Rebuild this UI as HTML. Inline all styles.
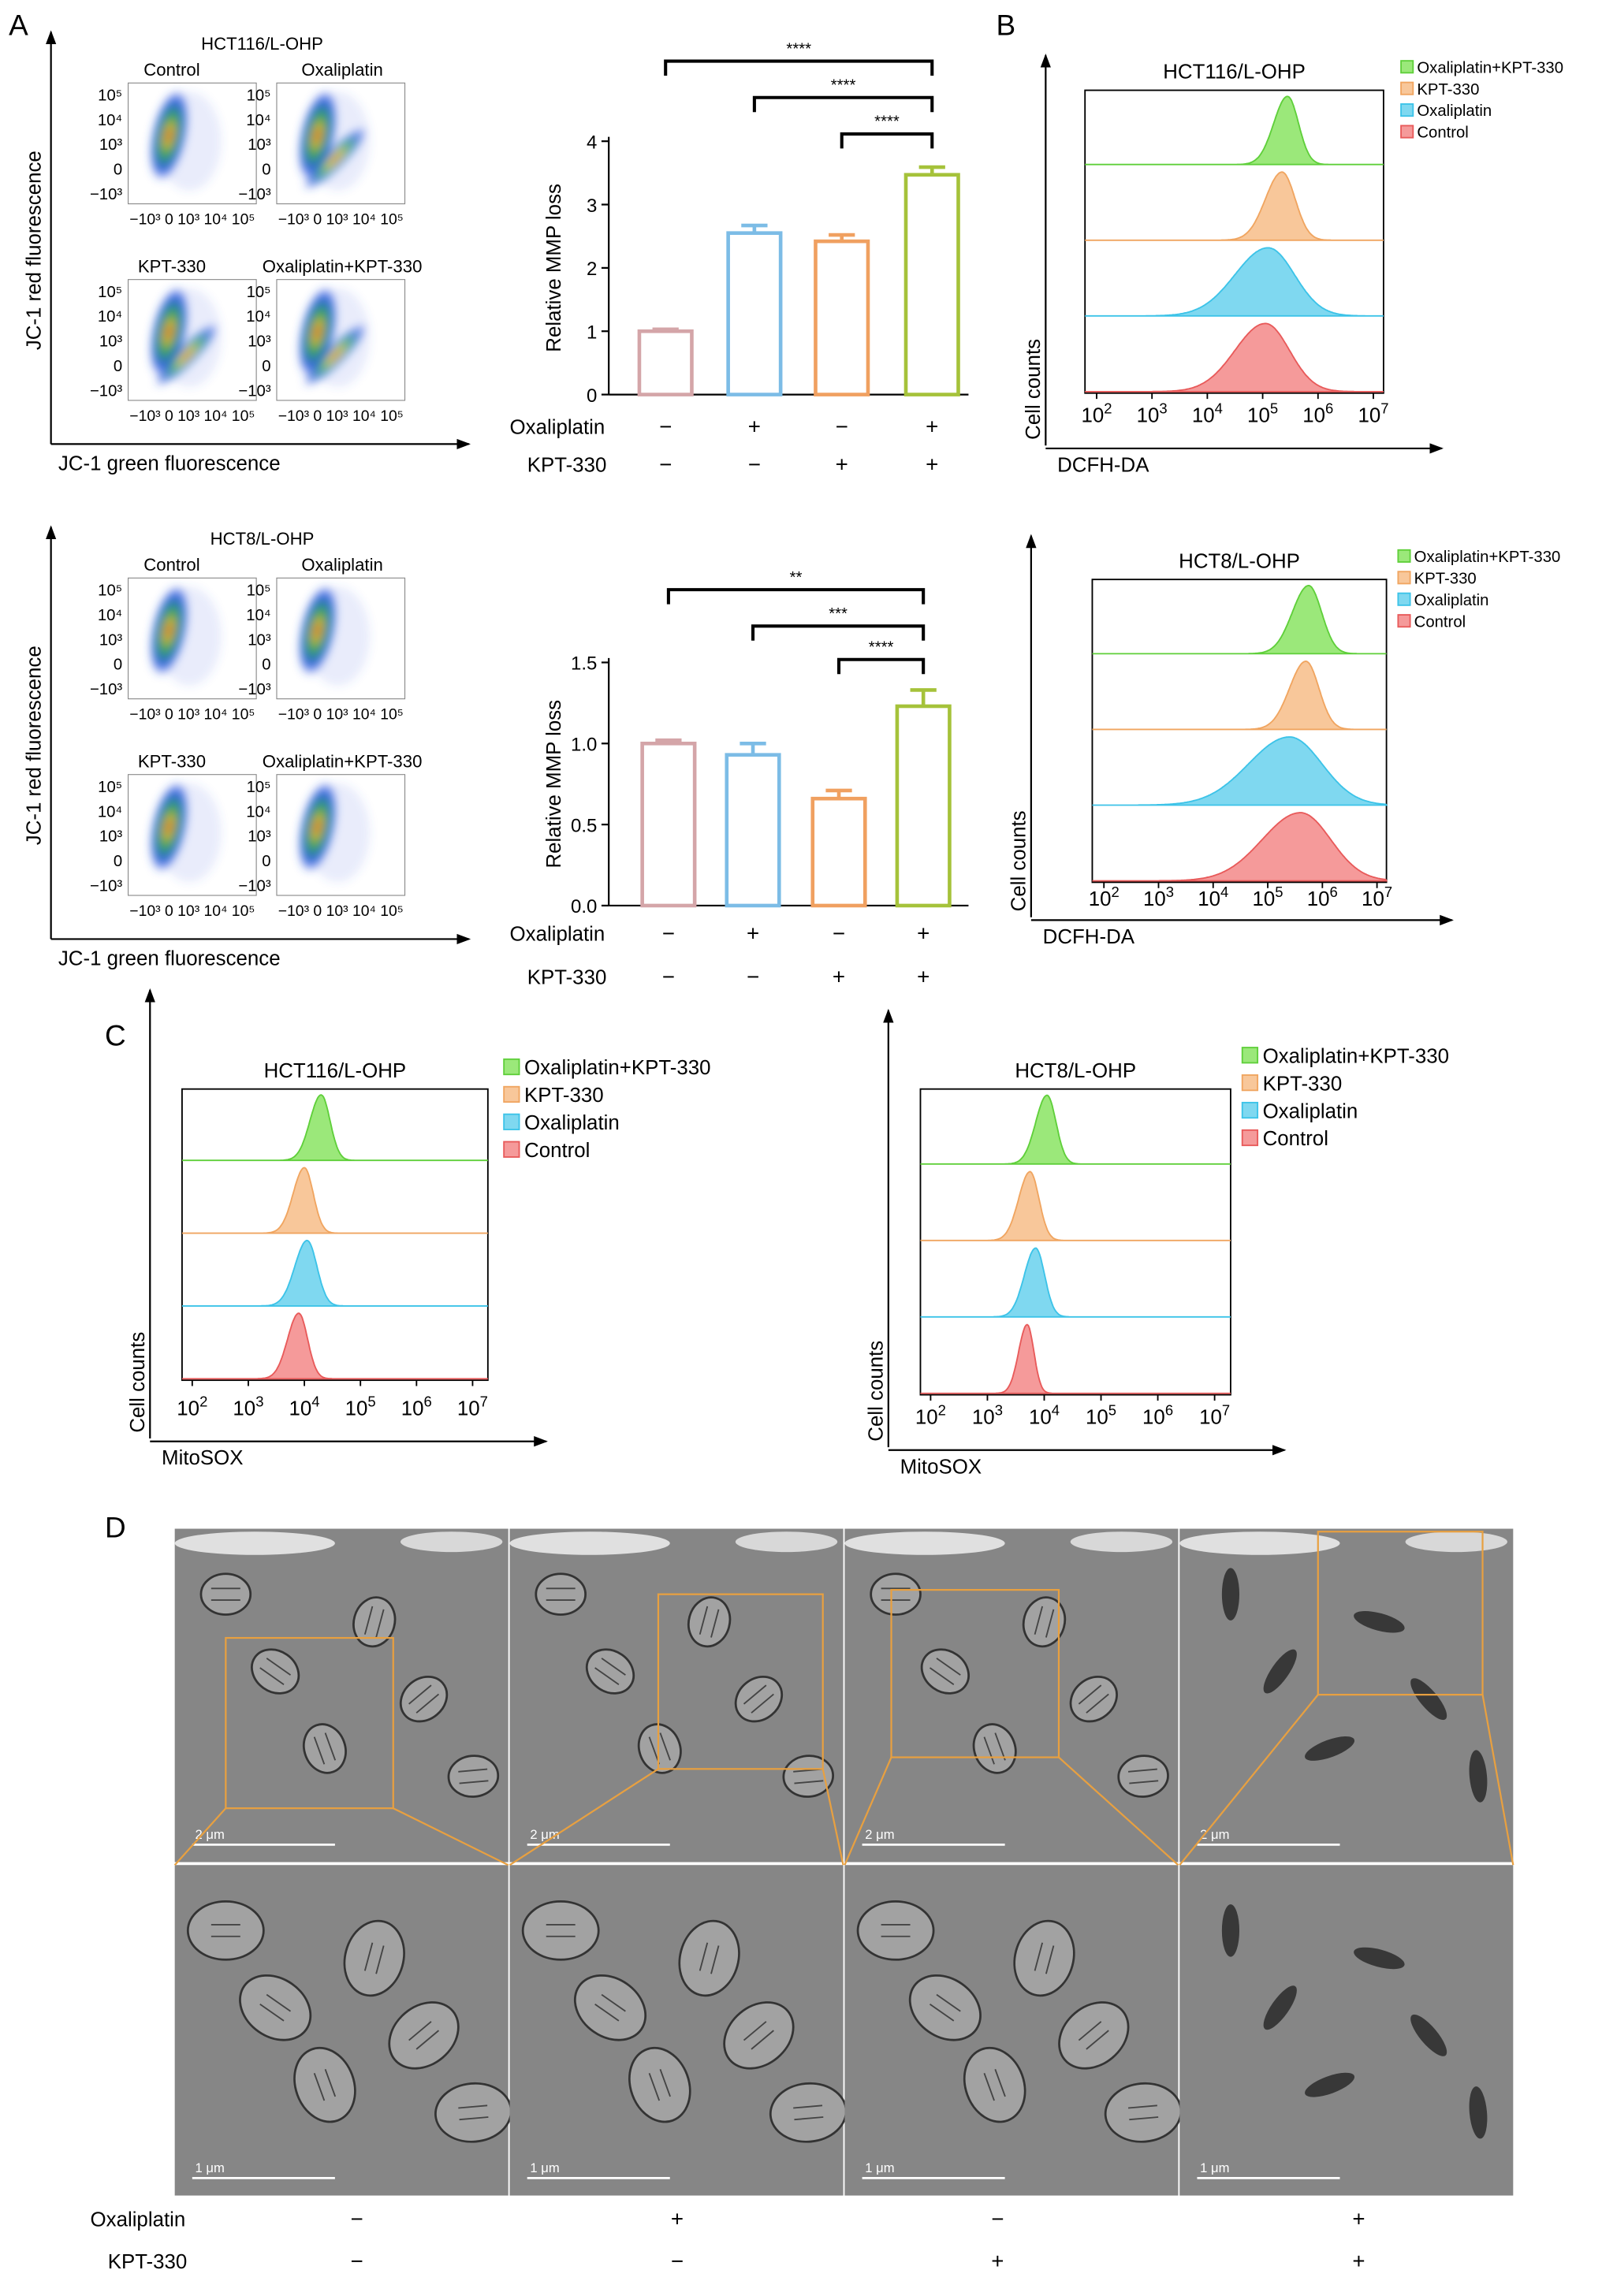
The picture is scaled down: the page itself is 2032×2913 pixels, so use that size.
<!DOCTYPE html>
<html><head><meta charset="utf-8">
<style>
html,body{margin:0;padding:0;background:#fff;}
svg{display:block;font-family:"Liberation Sans",Arial,sans-serif;}
</style></head>
<body>
<svg id="fig" width="2032" height="2913" viewBox="0 0 1100 1577" preserveAspectRatio="none" xmlns="http://www.w3.org/2000/svg">
<defs>
<radialGradient id="dens" cx="50%" cy="50%" r="50%">
<stop offset="0" stop-color="#e03020"/><stop offset="0.2" stop-color="#f0c020"/><stop offset="0.45" stop-color="#30b050"/><stop offset="0.75" stop-color="#3060e0"/><stop offset="1" stop-color="#3050e0" stop-opacity="0"/>
</radialGradient>
<filter id="blur"><feGaussianBlur stdDeviation="3"/></filter>
<marker id="arr" markerWidth="8" markerHeight="8" refX="7" refY="4" orient="auto"><path d="M0,1 L8,4 L0,7 z" fill="#000"/></marker>
</defs>
<g id="root"></g>
</svg>
<script>
// ---------- data ----------
const barGroups = ["Control","Oxaliplatin","KPT-330","Oxaliplatin+KPT-330"];
const mmpTop = [1.0, 2.55, 2.42, 3.47];
const mmpTopErr = [0.03, 0.12, 0.1, 0.12];
const mmpTopTicks = [0,1,2,3,4];
const mmpBot = [1.0, 0.93, 0.66, 1.23];
const mmpBotErr = [0.02, 0.07, 0.05, 0.1];
const mmpBotTicks = ["0.0","0.5","1.0","1.5"];
const sigTop = ["****","****","****"];
const sigBot = ["**","***","****"];
const oxaliRow = ["−","+","−","+"];
const kptRow = ["−","−","+","+"];
const histLabels = ["Oxaliplatin+KPT-330","KPT-330","Oxaliplatin","Control"];
const dcfhTopPeak = [5.45, 5.35, 5.1, 5.05];
const dcfhTopWidth = [0.25, 0.3, 0.6, 0.55];
const dcfhBotPeak = [5.75, 5.7, 5.4, 5.6];
const dcfhBotWidth = [0.3, 0.3, 0.75, 0.7];
const mitoLPeak = [4.3, 4.0, 4.05, 3.9];
const mitoLWidth = [0.2, 0.2, 0.22, 0.2];
const mitoRPeak = [4.05, 3.75, 3.85, 3.7];
const mitoRWidth = [0.2, 0.2, 0.2, 0.15];
const logTicks = [2,3,4,5,6,7];
const histColors = [["#9be87a","#5fcf3a"],["#f8c79a","#f0a560"],["#7fd8f0","#3cc3e8"],["#f59a9a","#e85a5a"]];
const barColors = ["#d4a5a8","#7cbce6","#f0a060","#a5c23a"];

const NS="http://www.w3.org/2000/svg";
const root=document.getElementById('root');
function el(tag,attrs,parent,text){const e=document.createElementNS(NS,tag);for(const k in attrs)e.setAttribute(k,attrs[k]);if(text!==undefined)e.textContent=text;(parent||root).appendChild(e);return e;}
function txt(x,y,s,size,name,anchor,extra){const t=el('text',Object.assign({x:x,y:y,'font-size':size,'text-anchor':anchor||'start',fill:'#000'},extra||{}),root,s);


return t;}
function line(x1,y1,x2,y2,name,w,arrow){const l=el('line',{x1,y1,x2,y2,stroke:'#000','stroke-width':w||1.2});if(arrow)l.setAttribute('marker-end','url(#arr)');


return l;}

txt(6,24,"A",20,"panel-a-label");
txt(684,24,"B",20,"panel-b-label");
txt(72,718,"C",20,"panel-c-label");
txt(72,1056,"D",20,"panel-d-label");

// ---------- scatter panels ----------
function scatterBlock(oy,title,cellLine){
  line(35,oy+283,35,oy,"y-axis-arrow",1.2,true);
  line(35,oy+283,322,oy+283,"x-axis-arrow",1.2,true);
  txt(180,oy+12,title,12,"scatter-title","middle");
  txt(28,oy+150,"JC-1 red fluorescence",14,"y-axis-title","middle",{transform:`rotate(-90 28 ${oy+150})`});
  txt(40,oy+301,"JC-1 green fluorescence",14,"x-axis-title");
  const boxes=[[88,oy+35,"Control"],[190,oy+35,"Oxaliplatin"],[88,oy+170,"KPT-330"],[190,oy+170,"Oxaliplatin+KPT-330"]];
  boxes.forEach((b,i)=>{
    const [x,y,lab]=b;
    txt(x+(i%2?45:30),y-5,lab,12,"scatter-label","middle");
    const r=el('rect',{x:x,y:y,width:88,height:83,fill:'#fff',stroke:'#888','stroke-width':0.6});
    
    
    const g=el('g',{filter:'url(#blur)'});
    
    
    el('ellipse',{cx:x+28,cy:y+36,rx:12,ry:32,fill:'url(#dens)',transform:`rotate(12 ${x+28} ${y+36})`},g);
    el('ellipse',{cx:x+42,cy:y+40,rx:22,ry:34,fill:'#4060e0',opacity:0.12},g);
    if(cellLine===1 && i>0) el('ellipse',{cx:x+40,cy:y+52,rx:7,ry:30,fill:'url(#dens)',transform:`rotate(45 ${x+40} ${y+52})`,opacity:0.8},g);
    const ys=["10⁵","10⁴","10³","0","−10³"];
    ys.forEach((s,k)=>txt(x-4,y+12+k*17,s,11,"y-tick-label","end"));
    txt(x+44,y+97,"−10³ 0 10³ 10⁴ 10⁵",10.5,"x-tick-label","middle");
  });
}
scatterBlock(22,"HCT116/L-OHP",1);
scatterBlock(362,"HCT8/L-OHP",2);

// ---------- bar charts ----------
function barChart(y0,yTop,maxV,ticks,vals,errs,xs,sig,sigY,rowY){
  const ax=418, sc=v=>y0-(v/maxV)*(y0-yTop);
  line(ax,y0,ax,yTop-3,"bar-y-axis",1.2);
  line(ax,y0,665,y0,"bar-x-axis",1.2);
  ticks.forEach(t=>{const v=parseFloat(t);line(ax-5,sc(v),ax,sc(v),"y-tick",1.2);txt(ax-8,sc(v)+5,String(t),13,"y-tick-label","end");});
  txt(385,(y0+yTop)/2,"Relative MMP loss",14,"y-axis-title","middle",{transform:`rotate(-90 385 ${(y0+yTop)/2})`});
  vals.forEach((v,i)=>{
    const bw=36,x=xs[i]-bw/2,top=sc(v);
    const r=el('rect',{x:x,y:top,width:bw,height:y0-top,fill:'#fff',stroke:barColors[i],'stroke-width':2.5});
    
    
    const e=sc(v+errs[i]);
    const p=el('path',{d:`M${xs[i]},${top} V${e} M${xs[i]-9},${e} H${xs[i]+9}`,stroke:barColors[i],'stroke-width':2.5,fill:'none'});
    
    
  });
  [0,1,2].forEach((s,k)=>{
    const yy=sigY[k];
    const p=el('path',{d:`M${xs[s]},${yy+10} V${yy} H${xs[3]} V${yy+10}`,stroke:'#000','stroke-width':2.2,fill:'none'});
    
    
    txt((xs[s]+xs[3])/2,yy-5,sig[k],11,"significance-stars","middle");
  });
  txt(350,rowY[0]+5,"Oxaliplatin",14,"oxaliplatin-row-label");
  txt(362,rowY[1]+5,"KPT-330",14,"kpt330-row-label");
  oxaliRow.forEach((s,i)=>txt(xs[i],rowY[0]+5,s,15,"oxaliplatin-sign","middle"));
  kptRow.forEach((s,i)=>txt(xs[i],rowY[1]+5,s,15,"kpt330-sign","middle"));
}
barChart(271,97,4,mmpTopTicks,mmpTop,mmpTopErr,[457,518,578,640],sigTop,[42,67,92],[293,319]);
barChart(622,455,1.5,mmpBotTicks,mmpBot,mmpBotErr,[459,517,576,634],sigBot,[405,430,453],[641,671]);

// ---------- histograms ----------
function histPanel(o){
  const {bx,by,bw,bh,ax,axBottom,axTop,axRight,axY,title,peaks,widths,d2,ppd,label,legX,legY,legSize,tickY}=o;
  line(ax,axBottom,ax,axTop,"hist-y-arrow",1.2,true);
  line(ax,axY,axRight,axY,"hist-x-arrow",1.2,true);
  const bx0=el('rect',{x:bx,y:by,width:bw,height:bh,fill:'none',stroke:'#000','stroke-width':1});
  
  
  txt(bx+bw/2,by-8,title,14,"histogram-title","middle");
  const lh=bh/4;
  const xOf=v=>bx+d2+(v-2)*ppd;
  peaks.forEach((pk,i)=>{
    const base=by+lh*(i+1)-1, hmax=lh*0.9;
    let d=`M${bx},${base}`;
    for(let v=1.7;v<=7.3;v+=0.02){
      const x=xOf(v); if(x<bx||x>bx+bw) continue;
      const z=(v-pk)/widths[i];
      let h=hmax*Math.exp(-0.5*z*z*(z>0?1.6:1));
      d+=` L${x.toFixed(1)},${(base-h).toFixed(1)}`;
    }
    d+=` L${bx+bw},${base} Z`;
    const p=el('path',{d:d,fill:histColors[i][0],stroke:histColors[i][1],'stroke-width':1});
    
    
  });
  logTicks.forEach(t=>{const x=xOf(t);line(x,by+bh,x,by+bh+4,"x-tick",1);
    const tt=txt(x,tickY,"10",14,"x-tick-label","middle");
    el('tspan',{dy:-6,'font-size':10},tt,String(t));});
  txt(ax-4,axBottom-4,"Cell counts",14,"y-axis-title","start",{transform:`rotate(-90 ${ax-4} ${axBottom-4})`});
  txt(ax+8,axY+16,label,14,"x-axis-title");
  histLabels.forEach((l,i)=>{
    const yy=legY+i*legSize*1.35;
    const r=el('rect',{x:legX,y:yy-legSize*0.75,width:legSize*0.75,height:legSize*0.75,fill:histColors[i][0],stroke:histColors[i][1]});
    
    
    txt(legX+legSize,yy,l,legSize,"legend-entry");
  });
}
histPanel({bx:745,by:62,bw:205,bh:208,ax:718,axBottom:306,axTop:38,axRight:990,axY:308,title:"HCT116/L-OHP",peaks:dcfhTopPeak,widths:dcfhTopWidth,d2:8,ppd:38,label:"DCFH-DA",legX:962,legY:50,legSize:11,tickY:290});
histPanel({bx:750,by:398,bw:202,bh:208,ax:708,axBottom:630,axTop:368,axRight:997,axY:632,title:"HCT8/L-OHP",peaks:dcfhBotPeak,widths:dcfhBotWidth,d2:8,ppd:37.5,label:"DCFH-DA",legX:960,legY:386,legSize:11,tickY:622});
histPanel({bx:125,by:748,bw:210,bh:200,ax:103,axBottom:988,axTop:680,axRight:375,axY:990,title:"HCT116/L-OHP",peaks:mitoLPeak,widths:mitoLWidth,d2:7,ppd:38.5,label:"MitoSOX",legX:346,legY:738,legSize:14,tickY:972});
histPanel({bx:632,by:748,bw:213,bh:210,ax:610,axBottom:994,axTop:694,axRight:882,axY:996,title:"HCT8/L-OHP",peaks:mitoRPeak,widths:mitoRWidth,d2:7,ppd:39,label:"MitoSOX",legX:853,legY:730,legSize:14,tickY:978});

// ---------- TEM images ----------
const cols=[120,350,580,810], cw=229;
const boxes=[[155,1125,115,117],[452,1095,113,120],[612,1092,115,115],[905,1052,113,112]];
cols.forEach((x,i)=>{
  [[1050,229],[1281,227]].forEach((r,k)=>{
    const g=el('g',{});
    
    
    el('rect',{x:x,y:r[0],width:cw,height:r[1],fill:'#868686'},g);
    if(!k){
      el('ellipse',{cx:x+55,cy:r[0]+10,rx:55,ry:8,fill:'#e0e0e0'},g);
      el('ellipse',{cx:x+190,cy:r[0]+9,rx:35,ry:7,fill:'#d8d8d8'},g);
    }
    for(let j=0;j<6;j++){
      const cx=x+35+j*34, cy=r[0]+45+((j*53)%140);
      if(i==3){
        el('ellipse',{cx:cx,cy:cy,rx:6,ry:18,fill:'#2a2a2a',opacity:0.85,transform:`rotate(${j*35} ${cx} ${cy})`},g);
      } else {
        el('ellipse',{cx:cx,cy:cy,rx:k?26:17,ry:k?20:14,fill:'#a2a2a2',stroke:'#333','stroke-width':1.5,transform:`rotate(${j*35} ${cx} ${cy})`},g);
        el('path',{d:`M${cx-10},${cy-4} H${cx+10} M${cx-10},${cy+4} H${cx+10}`,stroke:'#444','stroke-width':1,transform:`rotate(${j*35} ${cx} ${cy})`},g);
      }
    }
    el('line',{x1:x+12,y1:r[0]+r[1]-12,x2:x+110,y2:r[0]+r[1]-12,stroke:'#fff','stroke-width':1.5},g);
    el('text',{x:x+14,y:r[0]+r[1]-16,'font-size':9,fill:'#fff'},g,k?"1 μm":"2 μm");
  });
  const b=boxes[i];
  const r=el('rect',{x:b[0],y:b[1],width:b[2],height:b[3],fill:'none',stroke:'#e8a040','stroke-width':1.2});
  
  
  const p=el('path',{d:`M${b[0]},${b[1]+b[3]} L${x},1281 M${b[0]+b[2]},${b[1]+b[3]} L${x+cw},1281`,stroke:'#e8a040','stroke-width':1.2,fill:'none'});
  
  
});
txt(62,1529,"Oxaliplatin",14,"d-oxaliplatin-label");
txt(74,1558,"KPT-330",14,"d-kpt330-label");
const dX=[245,465,685,933];
oxaliRow.forEach((s,i)=>txt(dX[i],1529,s,15,"d-oxaliplatin-sign","middle"));
kptRow.forEach((s,i)=>txt(dX[i],1558,s,15,"d-kpt330-sign","middle"));
</script>
</body></html>
